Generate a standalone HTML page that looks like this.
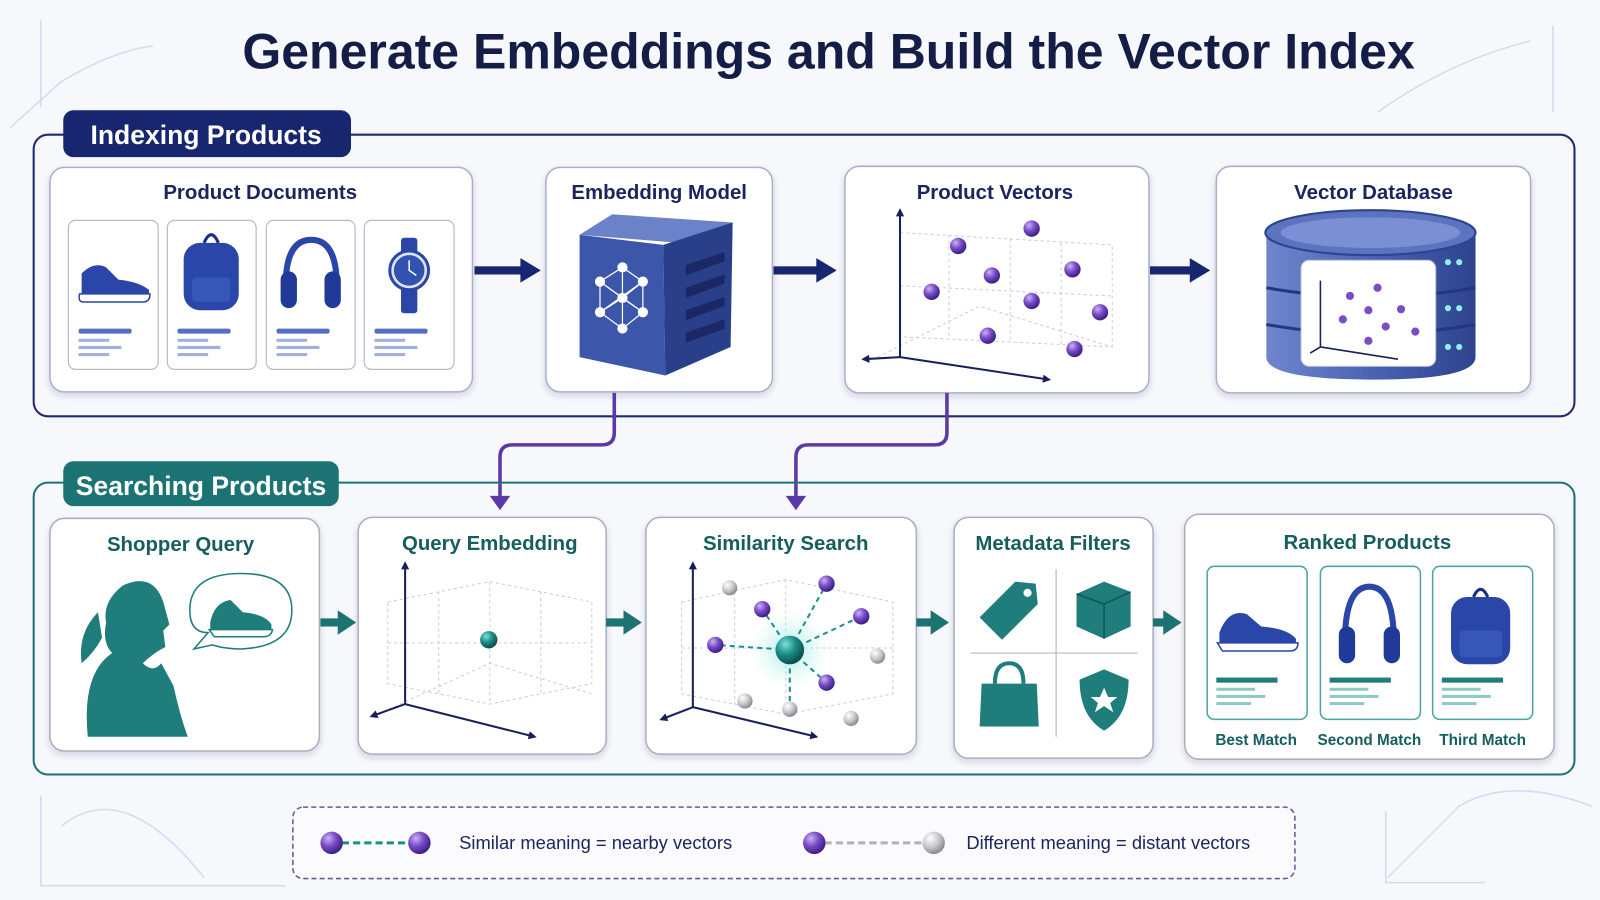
<!DOCTYPE html>
<html><head><meta charset="utf-8"><style>
html,body{margin:0;padding:0;background:#f7f8fc;}
svg{display:block;font-family:"Liberation Sans",sans-serif;}
.t{font-weight:bold;font-size:20px;text-anchor:middle;}
</style></head><body>
<svg width="1600" height="900" viewBox="0 0 1568 882" preserveAspectRatio="none" xmlns="http://www.w3.org/2000/svg">
<defs>
<radialGradient id="pu" cx="35%" cy="30%" r="70%"><stop offset="0" stop-color="#c9b4f2"/><stop offset="0.5" stop-color="#7a4cc8"/><stop offset="1" stop-color="#3d1f86"/></radialGradient>
<radialGradient id="gr" cx="35%" cy="30%" r="70%"><stop offset="0" stop-color="#ffffff"/><stop offset="0.6" stop-color="#c4c4c8"/><stop offset="1" stop-color="#8a8a90"/></radialGradient>
<radialGradient id="te" cx="35%" cy="30%" r="70%"><stop offset="0" stop-color="#7fe0d6"/><stop offset="0.5" stop-color="#1b8f88"/><stop offset="1" stop-color="#0b4e4c"/></radialGradient>
<radialGradient id="glow"><stop offset="0" stop-color="#7fe6dc" stop-opacity="0.7"/><stop offset="1" stop-color="#bff2ec" stop-opacity="0"/></radialGradient>
<linearGradient id="db" x1="0" x2="1"><stop offset="0" stop-color="#6f86cc"/><stop offset="0.5" stop-color="#4a64b4"/><stop offset="1" stop-color="#2d438e"/></linearGradient>
<filter id="sh" x="-5%" y="-5%" width="110%" height="115%"><feDropShadow dx="0" dy="3" stdDeviation="3" flood-color="#203060" flood-opacity="0.18"/></filter>
<marker id="an" markerWidth="8" markerHeight="8" refX="6" refY="4" orient="auto" markerUnits="userSpaceOnUse"><path d="M0,0 L8,4 L0,8z" fill="#17205a"/></marker>
</defs>
<rect width="1568" height="882" fill="#f7f8fc"/>
<g stroke="#c9d3ee" stroke-width="1.5" fill="none" opacity="0.8">
<path d="M40 20 V105 M10 125 L60 80 Q110 50 150 45"/>
<path d="M1522 25 V110 M1350 110 Q1420 60 1500 40"/>
<path d="M40 780 V868 H280 M60 810 Q120 760 200 860"/>
<path d="M1358 795 V865 H1455 M1360 860 L1430 790 Q1480 760 1560 790"/>
</g>
<text x="812" y="67" text-anchor="middle" font-size="49" font-weight="bold" fill="#141d45">Generate Embeddings and Build the Vector Index</text>

<rect x="33" y="132" width="1510" height="276" rx="14" fill="none" stroke="#1e2a6e" stroke-width="2"/>
<rect x="62" y="108" width="282" height="46" rx="10" fill="#17266e"/>
<text x="202" y="141" text-anchor="middle" font-size="26" font-weight="bold" fill="#fff">Indexing Products</text>

<g filter="url(#sh)" fill="#fff" stroke="#a9b0c8" stroke-width="1.5">
<rect x="49" y="164" width="414" height="220" rx="14"/>
<rect x="535" y="164" width="222" height="220" rx="14"/>
<rect x="828" y="163" width="298" height="222" rx="14"/>
<rect x="1192" y="163" width="308" height="222" rx="14"/>
</g>
<g fill="#1b2560">
<text class="t" x="255" y="195">Product Documents</text>
<text class="t" x="646" y="195">Embedding Model</text>
<text class="t" x="975" y="195">Product Vectors</text>
<text class="t" x="1346" y="195">Vector Database</text>
</g>
<g>
<g fill="#fff" stroke="#b5bccf" stroke-width="1.2">
<rect x="67" y="216" width="88" height="146" rx="7"/><rect x="164" y="216" width="87" height="146" rx="7"/><rect x="261" y="216" width="87" height="146" rx="7"/><rect x="357" y="216" width="88" height="146" rx="7"/>
</g>
<g fill="#5570c0">
<rect x="77" y="322" width="52" height="5" rx="2"/><rect x="174" y="322" width="52" height="5" rx="2"/><rect x="271" y="322" width="52" height="5" rx="2"/><rect x="367" y="322" width="52" height="5" rx="2"/>
</g>
<g fill="#9fb0dc">
<rect x="77" y="332" width="30" height="3"/><rect x="77" y="339" width="42" height="3"/><rect x="77" y="346" width="30" height="3"/>
<rect x="174" y="332" width="30" height="3"/><rect x="174" y="339" width="42" height="3"/><rect x="174" y="346" width="30" height="3"/>
<rect x="271" y="332" width="30" height="3"/><rect x="271" y="339" width="42" height="3"/><rect x="271" y="346" width="30" height="3"/>
<rect x="367" y="332" width="30" height="3"/><rect x="367" y="339" width="42" height="3"/><rect x="367" y="346" width="30" height="3"/>
</g>
<path d="M80 268 Q92 256 104 262 L116 274 Q136 276 146 284 L146 290 L80 290 Z" fill="#2a46a8"/>
<path d="M78 288 H147 Q147 296 140 296 H82 Q76 296 78 288Z" fill="#fff" stroke="#2a46a8" stroke-width="1.5"/>
<rect x="180" y="238" width="54" height="66" rx="16" fill="#2a46a8"/><rect x="188" y="272" width="38" height="24" rx="4" fill="#3656b8"/>
<path d="M200 238 Q207 222 214 238" stroke="#1b2f80" stroke-width="3" fill="none"/>
<path d="M280 280 Q280 235 305 235 Q330 235 330 280" stroke="#2a46a8" stroke-width="6" fill="none"/>
<rect x="275" y="266" width="16" height="36" rx="8" fill="#1f3a98"/><rect x="318" y="266" width="16" height="36" rx="8" fill="#1f3a98"/>
<rect x="393" y="233" width="16" height="74" rx="3" fill="#2a46a8"/>
<circle cx="401" cy="265" r="19" fill="#dfe5f6" stroke="#2a46a8" stroke-width="3"/><circle cx="401" cy="265" r="15" fill="#3252b0"/>
<path d="M401 255 V265 L408 270" stroke="#fff" stroke-width="1.5" fill="none"/>
</g>
<g>
<path d="M568 230 L600 210 L718 218 L690 240 Z" fill="#6b82c8"/>
<path d="M568 230 L650 240 L652 368 L568 350 Z" fill="#3c57aa"/>
<path d="M650 240 L718 218 L716 340 L652 368 Z" fill="#2a3f8a"/>
<g fill="#1a2866"><path d="M672 260 L710 247 L710 256 L672 270Z"/><path d="M672 282 L710 269 L710 278 L672 292Z"/><path d="M672 304 L710 291 L710 300 L672 314Z"/><path d="M672 326 L710 313 L710 322 L672 336Z"/></g>
<g stroke="#fff" stroke-width="1.2" fill="none"><path d="M610 262 L630 276 L630 306 L610 322 L588 306 L588 276Z M610 262 L610 322 M588 276 L630 306 M630 276 L588 306 M610 292 L588 276 M610 292 L630 276 M610 292 L588 306 M610 292 L630 306"/></g>
<g fill="#fff"><circle cx="610" cy="262" r="5"/><circle cx="630" cy="276" r="5"/><circle cx="630" cy="306" r="5"/><circle cx="610" cy="322" r="5"/><circle cx="588" cy="306" r="5"/><circle cx="588" cy="276" r="5"/><circle cx="610" cy="292" r="5"/></g>
</g>
<g fill="#17266e">
<rect x="465" y="261" width="48" height="8"/><path d="M510 253 L530 265 L510 277Z"/>
<rect x="758" y="261" width="45" height="8"/><path d="M800 253 L820 265 L800 277Z"/>
<rect x="1127" y="261" width="42" height="8"/><path d="M1166 253 L1186 265 L1166 277Z"/>
</g>
<g stroke="#c6cbe6" stroke-dasharray="3 3" fill="none" stroke-width="1">
<path d="M882 228 L1090 240 L1090 340 L882 330Z M882 280 L1090 290 M930 230 V330 M990 234 V335 M1040 238 V338 M860 350 L960 300 L1090 340"/>
</g>
<path d="M882 350 V206" stroke="#17205a" stroke-width="2" marker-end="url(#an)"/>
<path d="M882 350 L846 352" stroke="#17205a" stroke-width="2" marker-end="url(#an)"/>
<path d="M882 350 L1028 372" stroke="#17205a" stroke-width="2" marker-end="url(#an)"/>
<g fill="url(#pu)">
<circle cx="1011" cy="224" r="8"/><circle cx="939" cy="241" r="8"/><circle cx="972" cy="270" r="8"/><circle cx="1051" cy="264" r="8"/><circle cx="913" cy="286" r="8"/><circle cx="1011" cy="295" r="8"/><circle cx="1078" cy="306" r="8"/><circle cx="968" cy="329" r="8"/><circle cx="1053" cy="342" r="8"/>
</g>
<g>
<path d="M1241 228 V350 Q1241 372 1346 372 Q1446 372 1446 350 V228Z" fill="url(#db)"/>
<ellipse cx="1343" cy="228" rx="103" ry="22" fill="#5c74c0" stroke="#2d438e" stroke-width="2"/>
<ellipse cx="1343" cy="228" rx="88" ry="15" fill="#7b90d4"/>
<path d="M1241 282 Q1343 300 1446 282 M1241 318 Q1343 336 1446 318" stroke="#233680" stroke-width="3" fill="none"/>
<g fill="#8ff0f0"><circle cx="1419" cy="257" r="3"/><circle cx="1430" cy="257" r="3"/><circle cx="1419" cy="302" r="3"/><circle cx="1430" cy="302" r="3"/><circle cx="1419" cy="340" r="3"/><circle cx="1430" cy="340" r="3"/></g>
<rect x="1275" y="255" width="132" height="104" rx="8" fill="#fff" stroke="#b8c0dc"/>
<path d="M1294 340 V275 M1294 340 L1284 346 M1294 340 L1370 352" stroke="#17205a" stroke-width="1.5" fill="none"/>
<g fill="#7a4cc8"><circle cx="1323" cy="290" r="4"/><circle cx="1350" cy="282" r="4"/><circle cx="1341" cy="304" r="4"/><circle cx="1373" cy="303" r="4"/><circle cx="1316" cy="313" r="4"/><circle cx="1358" cy="320" r="4"/><circle cx="1387" cy="325" r="4"/><circle cx="1341" cy="334" r="4"/></g>
</g>

<g stroke="#5b3aa8" stroke-width="3.5" fill="none">
<path d="M602 385 V424 Q602 436 590 436 H502 Q490 436 490 448 V488"/>
<path d="M928 385 V424 Q928 436 916 436 H792 Q780 436 780 448 V488"/>
</g>
<path d="M480 486 L490 500 L500 486Z" fill="#5b3aa8"/><path d="M770 486 L780 500 L790 486Z" fill="#5b3aa8"/>

<rect x="33" y="473" width="1510" height="286" rx="14" fill="none" stroke="#1b7473" stroke-width="2"/>
<rect x="62" y="452" width="270" height="44" rx="10" fill="#1b7473"/>
<text x="197" y="485" text-anchor="middle" font-size="26" font-weight="bold" fill="#fff">Searching Products</text>
<g filter="url(#sh)" fill="#fff" stroke="#a9b0bc" stroke-width="1.5">
<rect x="49" y="508" width="264" height="228" rx="14"/>
<rect x="351" y="507" width="243" height="232" rx="14"/>
<rect x="633" y="507" width="265" height="232" rx="14"/>
<rect x="935" y="507" width="195" height="236" rx="14"/>
<rect x="1161" y="504" width="362" height="240" rx="14"/>
</g>
<g fill="#165e5e">
<text class="t" x="177" y="540">Shopper Query</text>
<text class="t" x="480" y="539">Query Embedding</text>
<text class="t" x="770" y="539">Similarity Search</text>
<text class="t" x="1032" y="539">Metadata Filters</text>
<text class="t" x="1340" y="538">Ranked Products</text>
</g>
<g fill="#1f7d7b">
<path d="M86 722 Q80 660 110 640 Q100 630 104 610 Q100 590 120 574 Q150 560 160 590 L166 612 L160 618 L162 634 Q150 640 140 650 Q150 660 158 650 L170 672 Q176 700 184 722Z"/>
<path d="M96 600 Q76 620 80 650 Q92 640 100 625Z"/>
</g>
<path d="M204 620 Q186 620 186 598 Q186 562 236 562 Q286 562 286 598 Q286 634 236 636 Q220 636 208 632 L190 636 Z" fill="#fff" stroke="#1f7d7b" stroke-width="1.5"/>
<path d="M206 610 Q210 590 226 588 L238 600 Q260 602 266 612 L266 618 L206 618Z" fill="#1f7d7b"/>
<path d="M205 617 H267 Q266 624 258 624 H210Z" fill="#fff" stroke="#1f7d7b" stroke-width="1.5"/>
<g fill="#1b7473">
<rect x="314" y="606" width="20" height="8"/><path d="M331 598 L349 610 L331 622Z"/>
<rect x="594" y="606" width="20" height="8"/><path d="M611 598 L629 610 L611 622Z"/>
<rect x="898" y="606" width="16" height="8"/><path d="M912 598 L930 610 L912 622Z"/>
<rect x="1130" y="606" width="12" height="8"/><path d="M1140 598 L1158 610 L1140 622Z"/>
</g>
<g stroke="#c6cbe6" stroke-dasharray="3 3" fill="none">
<path d="M380 590 L480 570 L580 590 L580 670 L480 690 L380 670Z M480 570 V690 M430 580 V680 M530 580 V680 M380 630 L580 630 M370 700 L480 650 L580 680"/>
</g>
<path d="M397 690 V552" stroke="#17205a" stroke-width="2" marker-end="url(#an)"/>
<path d="M397 690 L364 702" stroke="#17205a" stroke-width="2" marker-end="url(#an)"/>
<path d="M397 690 L524 722" stroke="#17205a" stroke-width="2" marker-end="url(#an)"/>
<circle cx="479" cy="627" r="8.5" fill="url(#te)"/>
<g stroke="#c6cbe6" stroke-dasharray="3 3" fill="none">
<path d="M668 590 L770 568 L875 590 L875 680 L770 700 L668 680Z M770 568 V700 M720 580 V690 M668 635 L875 635"/>
</g>
<path d="M679 693 V552" stroke="#17205a" stroke-width="2" marker-end="url(#an)"/>
<path d="M679 693 L648 705" stroke="#17205a" stroke-width="2" marker-end="url(#an)"/>
<path d="M679 693 L800 722" stroke="#17205a" stroke-width="2" marker-end="url(#an)"/>
<circle cx="774" cy="637" r="38" fill="url(#glow)"/>
<g stroke="#1b8f88" stroke-width="2" stroke-dasharray="5 4">
<path d="M774 637 L810 572 M774 637 L747 597 M774 637 L844 604 M774 637 L701 632 M774 637 L810 669 M774 637 L774 695"/>
</g>
<g fill="url(#pu)"><circle cx="810" cy="572" r="8"/><circle cx="747" cy="597" r="8"/><circle cx="844" cy="604" r="8"/><circle cx="701" cy="632" r="8"/><circle cx="810" cy="669" r="8"/></g>
<g fill="url(#gr)"><circle cx="715" cy="576" r="7.5"/><circle cx="860" cy="643" r="7.5"/><circle cx="730" cy="687" r="7.5"/><circle cx="774" cy="695" r="7.5"/><circle cx="834" cy="704" r="7.5"/></g>
<circle cx="774" cy="637" r="14" fill="url(#te)"/>
<path d="M1035 558 V722 M951 640 H1115" stroke="#b8bcc6" stroke-width="1.2"/>
<g fill="#1f7d7b">
<path d="M960 605 L995 570 L1015 572 L1017 592 L982 627Z"/><circle cx="1007" cy="581" r="4" fill="#fff"/>
<path d="M1055 582 L1082 570 L1108 580 L1108 614 L1082 626 L1055 614Z"/><path d="M1055 582 L1082 592 L1108 580 M1082 592 V626" stroke="#0f5654" fill="none" stroke-width="1.5"/>
<path d="M962 670 H1016 L1018 712 H960Z"/><path d="M975 670 Q975 650 989 650 Q1003 650 1003 670" stroke="#1f7d7b" stroke-width="4" fill="none"/>
<path d="M1058 666 L1082 656 L1106 666 Q1106 702 1082 716 Q1058 702 1058 666Z"/>
</g>
<path d="M1082 674 L1086 683 L1095 683 L1088 689 L1091 698 L1082 692 L1073 698 L1076 689 L1069 683 L1078 683Z" fill="#fff"/>
<g fill="#fff" stroke="#4aa6a2" stroke-width="1.5">
<rect x="1183" y="555" width="98" height="150" rx="7"/><rect x="1294" y="555" width="98" height="150" rx="7"/><rect x="1404" y="555" width="98" height="150" rx="7"/>
</g>
<g fill="#1f7d7b"><rect x="1192" y="664" width="60" height="5"/><rect x="1303" y="664" width="60" height="5"/><rect x="1413" y="664" width="60" height="5"/></g>
<g fill="#8fc9c4">
<rect x="1192" y="674" width="38" height="3"/><rect x="1192" y="681" width="48" height="3"/><rect x="1192" y="688" width="34" height="3"/>
<rect x="1303" y="674" width="38" height="3"/><rect x="1303" y="681" width="48" height="3"/><rect x="1303" y="688" width="34" height="3"/>
<rect x="1413" y="674" width="38" height="3"/><rect x="1413" y="681" width="48" height="3"/><rect x="1413" y="688" width="34" height="3"/>
</g>
<path d="M1195 620 Q1204 596 1222 602 L1236 614 Q1262 616 1270 626 L1270 632 L1195 632Z" fill="#2a46a8"/>
<path d="M1193 630 H1272 Q1272 638 1264 638 H1198Z" fill="#fff" stroke="#2a46a8" stroke-width="1.5"/>
<path d="M1318 630 Q1318 575 1342 575 Q1366 575 1366 630" stroke="#2a46a8" stroke-width="6" fill="none"/>
<rect x="1312" y="614" width="16" height="36" rx="8" fill="#1f3a98"/><rect x="1356" y="614" width="16" height="36" rx="8" fill="#1f3a98"/>
<rect x="1422" y="585" width="58" height="66" rx="16" fill="#2a46a8"/><rect x="1430" y="618" width="42" height="26" rx="4" fill="#3656b8"/>
<path d="M1444 585 Q1451 570 1458 585" stroke="#1b2f80" stroke-width="3" fill="none"/>
<g font-size="15" font-weight="bold" fill="#165e5e" text-anchor="middle">
<text x="1231" y="730">Best Match</text><text x="1342" y="730">Second Match</text><text x="1453" y="730">Third Match</text>
</g>

<rect x="287" y="791" width="982" height="70" rx="10" fill="#fbfbfe" stroke="#5a5f9a" stroke-width="1.5" stroke-dasharray="5 3"/>
<path d="M335 826 H404" stroke="#1b8f88" stroke-width="3" stroke-dasharray="7 4"/>
<circle cx="325" cy="826" r="11" fill="url(#pu)"/><circle cx="411" cy="826" r="11" fill="url(#pu)"/>
<text x="450" y="832" font-size="18" fill="#1b2560">Similar meaning = nearby vectors</text>
<path d="M808 826 H905" stroke="#b0b0b6" stroke-width="3" stroke-dasharray="7 4"/>
<circle cx="798" cy="826" r="11" fill="url(#pu)"/><circle cx="915" cy="826" r="11" fill="url(#gr)"/>
<text x="947" y="832" font-size="18" fill="#1b2560">Different meaning = distant vectors</text>
</svg>
</body></html>
